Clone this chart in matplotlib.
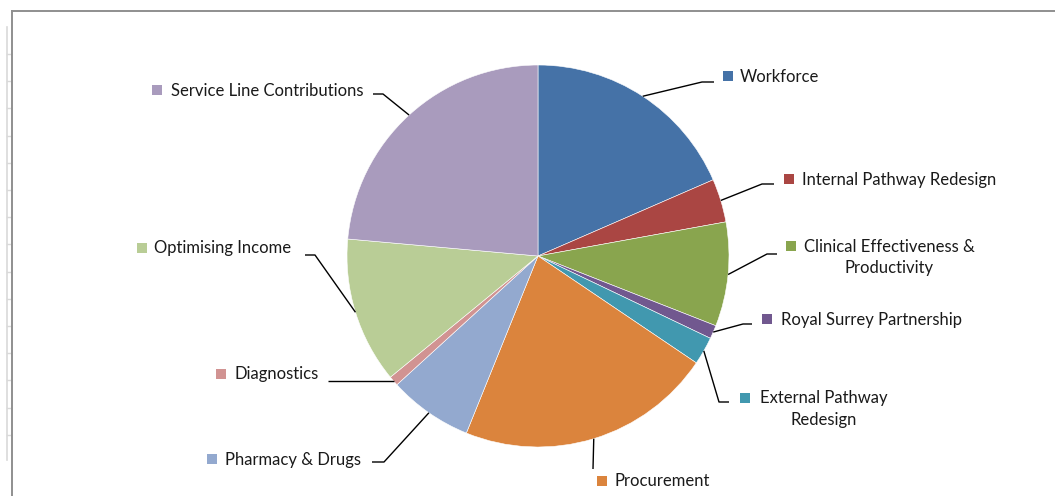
import matplotlib
matplotlib.use("Agg")
import matplotlib.pyplot as plt
from matplotlib.patches import Rectangle
import numpy as np

# ---- data ----
categories = ["Workforce", "Internal Pathway Redesign", "Clinical Effectiveness &\nProductivity",
              "Royal Surrey Partnership", "External Pathway\nRedesign", "Procurement",
              "Pharmacy & Drugs", "Diagnostics", "Optimising Income", "Service Line Contributions"]
values = [18.47, 3.67, 8.81, 1.14, 2.36, 21.67, 7.11, 0.83, 12.36, 23.58]
colors = ["#4572A7", "#AA4643", "#89A54E", "#71588F", "#4198AF", "#DB843D",
          "#93A9CF", "#D19392", "#B9CD96", "#A99BBD"]

W, H = 1055, 496
fig = plt.figure(figsize=(W / 100, H / 100), dpi=100)
ax = fig.add_axes([0, 0, 1, 1])

def py(y):
    return H - y

cx, cy, R = 538, py(256), 191
wedges, _ = ax.pie(values, colors=colors, startangle=90, counterclock=False,
                   center=(cx, cy), radius=R, frame=True,
                   wedgeprops=dict(edgecolor="white", linewidth=0.4))
ax.set_xlim(0, W)
ax.set_ylim(0, H)
ax.set_aspect("equal")
ax.axis("off")

# label layout: (elbow_x, elbow_y, end_x, marker_x, marker_y, text_x, text_y, ha)
layout = [
    (702, 82, 714, 723, 76, 740, 76.5, "left"),
    (762, 184, 774, 784, 179, 802, 179.5, "left"),
    (767, 254, 777, 786, 246, 889, 257.5, "center"),
    (743, 324, 752, 762, 319, 781, 319.5, "left"),
    (719, 402, 729, 740, 398, 824, 409, "center"),
    (593, 469, 593, 597, 481, 614, 481.5, "left"),
    (384, 462, 372, 207, 459, 225, 459.5, "left"),
    (330, 381, 328, 216, 374, 235, 374.5, "left"),
    (315, 255, 305, 137, 248, 154, 248.5, "left"),
    (383, 94, 373, 152, 90, 171, 90.5, "left"),
]

fs = 12
for w, lab, col, (ex, ey, endx, mx, my, tx, ty, ha) in zip(wedges, categories, colors, layout):
    th = np.deg2rad((w.theta1 + w.theta2) / 2)
    x0 = cx + R * np.cos(th)
    y0 = cy + R * np.sin(th)
    ax.plot([x0, ex, endx], [y0, py(ey), py(ey)], color="black", lw=1.0,
            solid_capstyle="butt", zorder=3)
    ax.add_patch(Rectangle((mx, py(my) - 4.5), 9.5, 9.5, facecolor=col, edgecolor="none", zorder=3))
    ax.text(tx, py(ty), lab, ha=ha, va="center", multialignment="center",
            fontsize=fs, family="Lato", color="#1a1a1a", linespacing=1.45)

# chart frame
ax.plot([12, 12], [py(11), 0], color="#8f8f8f", lw=1.4, zorder=4)
ax.plot([12, W], [py(11), py(11)], color="#8f8f8f", lw=1.4, zorder=4)
# faint stray axis with ticks at the far left
ax.plot([7, 7], [py(27), py(460)], color="#d9d9d9", lw=1.2)
for ty in np.arange(54, 440, 27.2):
    ax.plot([7, 10], [py(ty), py(ty)], color="#d9d9d9", lw=1.0)

fig.savefig("out.png", dpi=100, facecolor="white")
